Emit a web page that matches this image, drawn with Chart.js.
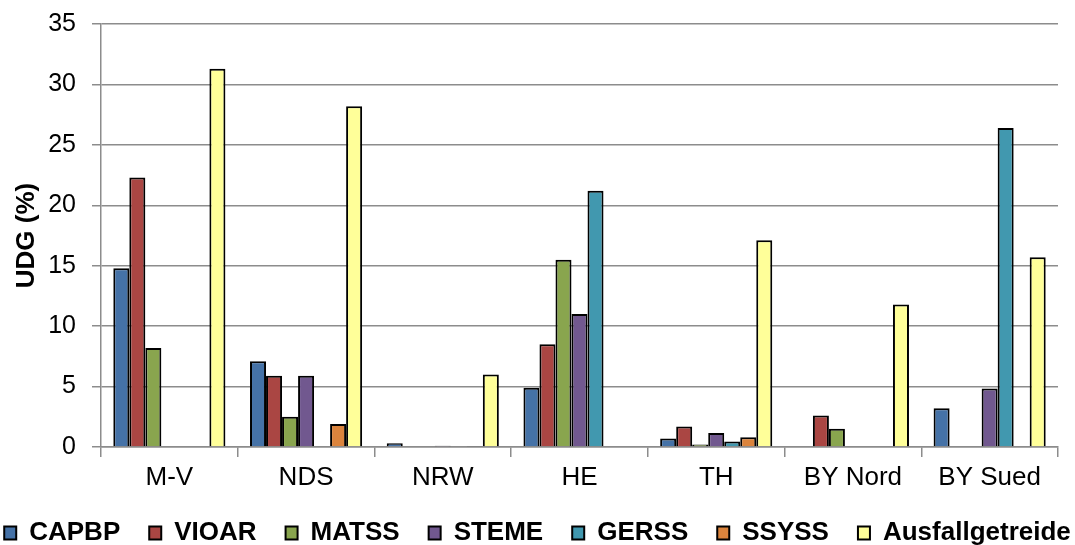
<!DOCTYPE html>
<html>
<head>
<meta charset="utf-8">
<script src="https://cdn.jsdelivr.net/npm/chart.js@4.4.0/dist/chart.umd.min.js"></script>
<style>
  html, body { margin: 0; padding: 0; background: #ffffff; }
  #wrap { width: 1075px; height: 545px; }
</style>
</head>
<body>
<div id="wrap"><canvas id="udgChart" width="1075" height="545"></canvas></div>
<script>
// regions (x axis)
const regions = ['M-V', 'NDS', 'NRW', 'HE', 'TH', 'BY Nord', 'BY Sued'];

// UDG (%) per series
const capbp  = [14.8, 7.1, 0.3, 4.9, 0.7, 0, 3.2];
const vioar  = [22.3, 5.9, 0, 8.5, 1.7, 2.6, 0];
const matss  = [8.2, 2.5, 0, 15.5, 0.2, 1.5, 0];
const steme  = [0, 5.9, 0.1, 11.0, 1.15, 0, 4.85];
const gerss  = [0, 0, 0, 21.2, 0.45, 0, 26.4];
const ssyss  = [0, 1.9, 0.05, 0, 0.8, 0, 0];
const ausfall = [31.3, 28.2, 6.0, 0, 17.1, 11.8, 15.7];

const yTicks = [0, 5, 10, 15, 20, 25, 30, 35];

const seriesNames = ['CAPBP', 'VIOAR', 'MATSS', 'STEME', 'GERSS', 'SSYSS', 'Ausfallgetreide'];
const seriesData = [capbp, vioar, matss, steme, gerss, ssyss, ausfall];
const seriesColors = ['#4572a7', '#aa4643', '#89a54e', '#71588f', '#4198af', '#db843d', '#ffff99'];

const gridGray = '#8c8c8c';
const fontFamily = 'Liberation Sans, Arial, sans-serif';

// keep the legend on one row even with wide gaps between items,
// and pin its row near the bottom edge
const wideLegend = {
    id: 'wideLegend',
    afterInit(chart) {
        const lg = chart.legend;
        const base = lg.update;
        lg.update = function (w, h, m) { return base.call(this, 1300, h, m); };
    },
    afterLayout(chart) {
        const lg = chart.legend;
        lg.left = -40;
        lg.right = 1115;
        lg.top = 491;
        lg.bottom = lg.top + lg.height;
    }
};

const ctx = document.getElementById('udgChart').getContext('2d');

const udgChart = new Chart(ctx, {
    type: 'bar',
    data: {
        labels: regions,
        datasets: seriesNames.map((name, i) => ({
            label: name,
            data: seriesData[i],
            backgroundColor: seriesColors[i],
            borderColor: '#000000',
            borderWidth: 2,
            borderSkipped: 'bottom',
            categoryPercentage: 0.82,
            barPercentage: 1.0
        }))
    },
    plugins: [wideLegend],
    options: {
        responsive: false,
        animation: false,
        devicePixelRatio: 1,
        layout: {
            padding: { left: 0, right: 0, top: 24, bottom: -9 }
        },
        plugins: {
            legend: {
                position: 'bottom',
                labels: {
                    color: '#000000',
                    font: { family: fontFamily, size: 26, weight: 'bold' },
                    boxWidth: 12,
                    boxHeight: 13,
                    padding: 29
                }
            },
            tooltip: { enabled: false }
        },
        scales: {
            x: {
                offset: true,
                grid: {
                    display: true,
                    offset: true,
                    drawOnChartArea: false,
                    drawTicks: true,
                    tickLength: 10,
                    color: gridGray,
                    lineWidth: 1.5
                },
                border: { color: gridGray, width: 1.5 },
                ticks: {
                    color: '#000000',
                    font: { family: fontFamily, size: 26 },
                    padding: 5,
                    maxRotation: 0
                },
                afterFit: scale => { scale.height = 42; }
            },
            y: {
                min: 0,
                max: 35,
                afterBuildTicks: scale => {
                    scale.ticks = yTicks.map(v => ({ value: v }));
                },
                grid: {
                    color: gridGray,
                    lineWidth: 1.5,
                    drawTicks: true,
                    tickLength: 9
                },
                border: { color: gridGray, width: 1.5 },
                ticks: {
                    color: '#000000',
                    font: { family: fontFamily, size: 25 },
                    padding: 16
                },
                title: {
                    display: true,
                    text: 'UDG (%)',
                    color: '#000000',
                    font: { family: fontFamily, size: 26, weight: 'bold' },
                    padding: { top: 11, bottom: 0 }
                },
                afterFit: scale => {
                    scale.width = 101;
                    scale.paddingTop = 0;
                    scale.paddingBottom = 0;
                }
            },
            // empty strip on the right, only to hold the plot edge off the border
            yRight: {
                position: 'right',
                min: 0,
                max: 1,
                grid: { display: false, drawTicks: false },
                border: { display: false },
                ticks: { display: false },
                afterFit: scale => {
                    scale.width = 17;
                    scale.paddingTop = 0;
                    scale.paddingBottom = 0;
                }
            }
        }
    }
});
</script>
</body>
</html>
